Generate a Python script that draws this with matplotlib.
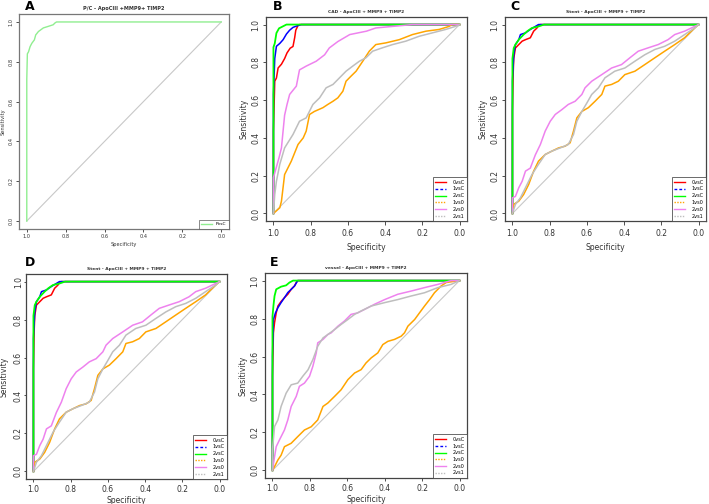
import matplotlib
matplotlib.use("Agg")
import matplotlib.pyplot as plt
from matplotlib.lines import Line2D

W, H = 709, 504

# ---------------- data ----------------
ticks = [1.0, 0.8, 0.6, 0.4, 0.2, 0.0]
tick_labels = ["1.0", "0.8", "0.6", "0.4", "0.2", "0.0"]
series_names = ["0vsC", "1vsC", "2vsC", "1vs0", "2vs0", "2vs1"]
panel_letters = ["A", "B", "C", "D", "E"]
titles = ["P/C - ApoCIII +MMP9+ TIMP2",
          "CAD - ApoCIII + MMP9 + TIMP2",
          "Stent - ApoCIII + MMP9 + TIMP2",
          "Stent - ApoCIII + MMP9 + TIMP2",
          "vessel - ApoCIII + MMP9 + TIMP2"]

# Panel A: PvsC
a_spec = [1.0, 1.0, 0.997, 0.991, 0.983, 0.974, 0.961, 0.954, 0.94, 0.915, 0.889, 0.864, 0.855, 0.847, 0.0]
a_sens = [0.0, 0.71, 0.84, 0.85, 0.876, 0.893, 0.91, 0.935, 0.952, 0.97, 0.978, 0.986, 0.995, 1.0, 1.0]

# Panel B: CAD
b_0vsC_spec = [1, 1, 0.993, 0.984, 0.975, 0.957, 0.94, 0.927, 0.91, 0.895, 0.886, 0.88, 0.868, 0.86, 0]
b_0vsC_sens = [0, 0.436, 0.70, 0.717, 0.77, 0.79, 0.82, 0.85, 0.875, 0.884, 0.93, 0.97, 0.995, 1, 1]
b_1vsC_spec = [1, 1, 0.993, 0.984, 0.966, 0.948, 0.93, 0.913, 0.895, 0.868, 0.85, 0]
b_1vsC_sens = [0, 0.63, 0.82, 0.885, 0.9, 0.92, 0.95, 0.97, 0.985, 0.995, 1, 1]
b_2vsC_spec = [1, 1, 0.993, 0.984, 0.97, 0.93, 0]
b_2vsC_sens = [0, 0.88, 0.9, 0.955, 0.98, 1, 1]
b_1vs0_spec = [1, 0.966, 0.957, 0.94, 0.904, 0.868, 0.84, 0.824, 0.806, 0.78, 0.734, 0.708, 0.68, 0.654,
               0.627, 0.61, 0.583, 0.556, 0.52, 0.485, 0.45, 0.396, 0.324, 0.253, 0.18, 0.11, 0.057, 0.04, 0]
b_1vs0_sens = [0, 0.03, 0.065, 0.206, 0.277, 0.365, 0.4, 0.436, 0.524, 0.54, 0.56, 0.577, 0.594, 0.612,
               0.647, 0.7, 0.727, 0.753, 0.806, 0.859, 0.894, 0.903, 0.92, 0.947, 0.965, 0.974, 0.99, 1.0, 1.0]
b_2vs0_spec = [1, 1, 0.97, 0.957, 0.94, 0.927, 0.913, 0.877, 0.86, 0.824, 0.77, 0.725, 0.7, 0.654, 0.59,
               0.5, 0.45, 0.253, 0]
b_2vs0_sens = [0, 0.19, 0.295, 0.347, 0.52, 0.577, 0.63, 0.674, 0.76, 0.78, 0.806, 0.84, 0.876, 0.91, 0.947,
               0.965, 0.982, 1.0, 1.0]
b_2vs1_spec = [1, 0.993, 0.984, 0.966, 0.94, 0.895, 0.86, 0.824, 0.788, 0.752, 0.717, 0.68, 0.645, 0.61,
               0.574, 0.538, 0.503, 0.467, 0.414, 0.36, 0.289, 0.217, 0.146, 0.075, 0.004, 0]
b_2vs1_sens = [0, 0.1, 0.17, 0.26, 0.347, 0.418, 0.488, 0.506, 0.577, 0.612, 0.665, 0.683, 0.718, 0.753,
               0.78, 0.806, 0.824, 0.859, 0.877, 0.894, 0.912, 0.938, 0.956, 0.974, 0.996, 1.0]

# Panels C and D: Stent (same curves)
c_0vsC_spec = [1, 1, 0.996, 0.993, 0.984, 0.966, 0.948, 0.93, 0.904, 0.886, 0.868, 0.86, 0.85, 0]
c_0vsC_sens = [0, 0.54, 0.744, 0.82, 0.876, 0.894, 0.912, 0.92, 0.93, 0.965, 0.982, 0.996, 1.0, 1.0]
c_1vsC_spec = [1, 1, 0.993, 0.984, 0.966, 0.957, 0.93, 0.904, 0.877, 0.86, 0]
c_1vsC_sens = [0, 0.7, 0.84, 0.894, 0.92, 0.947, 0.956, 0.974, 0.99, 1, 1]
c_2vsC_spec = [1, 1, 0.993, 0.984, 0.966, 0.94, 0.92, 0.895, 0.86, 0.83, 0]
c_2vsC_sens = [0, 0.82, 0.876, 0.894, 0.92, 0.947, 0.965, 0.982, 0.99, 1, 1]
c_1vs0_spec = [1, 0.993, 0.966, 0.94, 0.913, 0.886, 0.86, 0.824, 0.788, 0.752, 0.717, 0.69, 0.672, 0.654,
               0.627, 0.592, 0.556, 0.52, 0.503, 0.467, 0.431, 0.396, 0.342, 0.289, 0.235, 0.182, 0.128,
               0.075, 0.021, 0]
c_1vs0_sens = [0, 0.048, 0.065, 0.1, 0.153, 0.224, 0.277, 0.312, 0.33, 0.347, 0.356, 0.374, 0.436, 0.506,
               0.54, 0.56, 0.594, 0.63, 0.674, 0.683, 0.7, 0.735, 0.753, 0.788, 0.824, 0.859, 0.894,
               0.93, 0.982, 1.0]
c_2vs0_spec = [1, 1, 0.984, 0.966, 0.948, 0.93, 0.904, 0.877, 0.85, 0.824, 0.797, 0.77, 0.734, 0.7, 0.663,
               0.627, 0.61, 0.574, 0.52, 0.467, 0.414, 0.369, 0.324, 0.27, 0.217, 0.164, 0.128, 0.075,
               0.021, 0]
c_2vs0_sens = [0, 0.083, 0.09, 0.136, 0.17, 0.224, 0.24, 0.31, 0.365, 0.436, 0.488, 0.524, 0.55, 0.577,
               0.594, 0.63, 0.665, 0.7, 0.735, 0.77, 0.788, 0.824, 0.859, 0.877, 0.894, 0.92, 0.947,
               0.965, 0.99, 1.0]
c_2vs1_spec = [1, 0.984, 0.957, 0.93, 0.895, 0.86, 0.824, 0.788, 0.743, 0.7, 0.672, 0.654, 0.627, 0.6,
               0.574, 0.538, 0.503, 0.45, 0.396, 0.342, 0.289, 0.235, 0.182, 0.128, 0.075, 0.021, 0]
c_2vs1_sens = [0, 0.048, 0.083, 0.136, 0.206, 0.26, 0.312, 0.33, 0.347, 0.365, 0.418, 0.488, 0.54, 0.585,
               0.63, 0.665, 0.718, 0.753, 0.77, 0.806, 0.84, 0.868, 0.885, 0.912, 0.947, 0.982, 1.0]

# Panel E: vessel
e_0vsC_spec = [1, 1, 0.995, 0.989, 0.98, 0.971, 0.954, 0.936, 0.918, 0.9, 0.882, 0.873, 0.865, 0]
e_0vsC_sens = [0, 0.495, 0.725, 0.778, 0.83, 0.866, 0.89, 0.91, 0.928, 0.954, 0.972, 0.99, 1.0, 1.0]
e_1vsC_spec = [1, 1, 0.995, 0.984, 0.971, 0.954, 0.936, 0.918, 0.9, 0.882, 0.865, 0]
e_1vsC_sens = [0, 0.6, 0.795, 0.83, 0.857, 0.884, 0.91, 0.937, 0.954, 0.972, 1.0, 1.0]
e_2vsC_spec = [1, 1, 0.995, 0.989, 0.98, 0.954, 0.927, 0.909, 0.89, 0]
e_2vsC_sens = [0, 0.81, 0.866, 0.919, 0.954, 0.968, 0.975, 0.99, 1.0, 1.0]
e_1vs0_spec = [1, 0.989, 0.971, 0.954, 0.936, 0.9, 0.865, 0.829, 0.793, 0.758, 0.73, 0.704, 0.668, 0.633,
               0.597, 0.561, 0.526, 0.5, 0.472, 0.437, 0.41, 0.383, 0.348, 0.312, 0.294, 0.276, 0.24,
               0.214, 0.187, 0.16, 0.134, 0.098, 0.071, 0]
e_1vs0_sens = [0, 0.02, 0.055, 0.08, 0.125, 0.143, 0.178, 0.213, 0.23, 0.266, 0.337, 0.355, 0.39, 0.425,
               0.478, 0.513, 0.531, 0.566, 0.593, 0.619, 0.663, 0.68, 0.69, 0.707, 0.725, 0.76, 0.795,
               0.83, 0.866, 0.9, 0.936, 0.972, 0.99, 1.0]
e_2vs0_spec = [1, 0.989, 0.98, 0.963, 0.936, 0.918, 0.9, 0.873, 0.856, 0.829, 0.802, 0.784, 0.766, 0.758,
               0.73, 0.704, 0.686, 0.65, 0.615, 0.58, 0.544, 0.508, 0.455, 0.4, 0.33, 0.258, 0.187, 0.116,
               0.045, 0]
e_2vs0_sens = [0, 0.072, 0.125, 0.16, 0.213, 0.266, 0.337, 0.39, 0.443, 0.46, 0.496, 0.549, 0.619, 0.672,
               0.69, 0.716, 0.725, 0.76, 0.787, 0.822, 0.83, 0.848, 0.875, 0.9, 0.928, 0.945, 0.963, 0.98,
               1.0, 1.0]
e_2vs1_spec = [1, 1, 0.989, 0.971, 0.954, 0.927, 0.9, 0.865, 0.838, 0.81, 0.784, 0.758, 0.73, 0.704, 0.668,
               0.633, 0.597, 0.561, 0.526, 0.472, 0.4, 0.33, 0.258, 0.187, 0.116, 0.045, 0]
e_2vs1_sens = [0, 0.108, 0.231, 0.266, 0.337, 0.407, 0.451, 0.46, 0.496, 0.53, 0.584, 0.654, 0.698, 0.716,
               0.742, 0.769, 0.795, 0.822, 0.84, 0.866, 0.884, 0.9, 0.919, 0.936, 0.963, 0.98, 1.0]

# ---------------- styling ----------------
colors = {"0vsC": "#FF0000", "1vsC": "#0000FF", "2vsC": "#00FF00",
          "1vs0": "#FFA500", "2vs0": "#EE82EE", "2vs1": "#BEBEBE"}
legend_styles = {"0vsC": "-", "1vsC": (0, (2, 1.5)), "2vsC": "-",
                 "1vs0": (0, (1, 1)), "2vs0": "-", "2vs1": (0, (1, 1))}

fig = plt.figure(figsize=(W / 100, H / 100), dpi=100)


def px_axes(left, top, right, bottom):
    return fig.add_axes([left / W, 1 - bottom / H, (right - left) / W, (bottom - top) / H])


def style_axes(ax, fs_tick, fs_lab, fs_title, title, box_col="#444444",
               ylen=2.5, ypad=1.5, ylabpad=2, xlen=3, xpad=3, xlabpad=3):
    ax.set_xlim(1.04, -0.04)
    ax.set_ylim(-0.04, 1.04)
    ax.plot([1, 0], [0, 1], color="#C8C8C8", lw=0.8, zorder=1)
    ax.set_xticks(ticks)
    ax.set_xticklabels(tick_labels)
    ax.set_yticks(ticks)
    ax.set_yticklabels(tick_labels, rotation=90, va="center")
    ax.tick_params(axis="x", direction="out", length=xlen, width=0.6, pad=xpad, labelsize=fs_tick,
                   colors="#333333")
    ax.tick_params(axis="y", direction="out", length=ylen, width=0.6, pad=ypad, labelsize=fs_tick,
                   colors="#333333")
    for s in ax.spines.values():
        s.set_color(box_col)
        s.set_linewidth(0.9)
    ax.set_xlabel("Specificity", fontsize=fs_lab, labelpad=xlabpad, color="#333333")
    ax.set_ylabel("Sensitivity", fontsize=fs_lab, labelpad=ylabpad, color="#333333")
    ax.set_title(title, fontsize=fs_title, fontweight="bold", pad=3, color="#333333")


def multi_panel(ax, data, title, **kw):
    style_axes(ax, 5.5, 5.5, 3.2, title, **kw)
    for name in series_names:
        spec, sens = data[name]
        lw = 1.3 if name == "2vsC" else 1.1
        ax.plot(spec, sens, color=colors[name], lw=lw, zorder=3)
    handles = [Line2D([0], [0], color=colors[n], lw=1.0, linestyle=legend_styles[n]) for n in series_names]
    leg = ax.legend(handles, series_names, loc="lower right", fontsize=3.6, frameon=True,
                    fancybox=False, borderaxespad=0, handlelength=2.2, handletextpad=1.2,
                    labelspacing=0.35, borderpad=0.5)
    leg.get_frame().set_edgecolor("#444444")
    leg.get_frame().set_linewidth(0.7)


# Panel A
axA = px_axes(19, 14, 229, 229)
style_axes(axA, 3.6, 3.6, 3.6, titles[0], box_col="#777777", xlen=2, xpad=1.5, xlabpad=2)
axA.plot(a_spec, a_sens, color="#90EE90", lw=1.0, zorder=3)
legA = axA.legend([Line2D([0], [0], color="#90EE90", lw=1.0)], ["PvsC"], loc="lower right",
                  fontsize=3.2, fancybox=False, borderaxespad=0, handlelength=2.5, borderpad=0.6)
legA.get_frame().set_edgecolor("#555555")
legA.get_frame().set_linewidth(0.6)

b_data = {"0vsC": (b_0vsC_spec, b_0vsC_sens), "1vsC": (b_1vsC_spec, b_1vsC_sens),
          "2vsC": (b_2vsC_spec, b_2vsC_sens), "1vs0": (b_1vs0_spec, b_1vs0_sens),
          "2vs0": (b_2vs0_spec, b_2vs0_sens), "2vs1": (b_2vs1_spec, b_2vs1_sens)}
c_data = {"0vsC": (c_0vsC_spec, c_0vsC_sens), "1vsC": (c_1vsC_spec, c_1vsC_sens),
          "2vsC": (c_2vsC_spec, c_2vsC_sens), "1vs0": (c_1vs0_spec, c_1vs0_sens),
          "2vs0": (c_2vs0_spec, c_2vs0_sens), "2vs1": (c_2vs1_spec, c_2vs1_sens)}
e_data = {"0vsC": (e_0vsC_spec, e_0vsC_sens), "1vsC": (e_1vsC_spec, e_1vsC_sens),
          "2vsC": (e_2vsC_spec, e_2vsC_sens), "1vs0": (e_1vs0_spec, e_1vs0_sens),
          "2vs0": (e_2vs0_spec, e_2vs0_sens), "2vs1": (e_2vs1_spec, e_2vs1_sens)}

axB = px_axes(266, 17, 467, 221)
multi_panel(axB, b_data, titles[1])
axC = px_axes(505, 17, 706, 221)
multi_panel(axC, c_data, titles[2])
axD = px_axes(26, 274, 227, 479)
multi_panel(axD, c_data, titles[3], ylen=1.5, ypad=0.8, ylabpad=4, xlen=2.5, xpad=1.8, xlabpad=1.2)
axE = px_axes(265, 273, 467, 478)
multi_panel(axE, e_data, titles[4], xlen=2.5, xpad=1.8, xlabpad=1.2)

letter_pos = [(25, 7), (273, 7), (510, 7), (25, 262), (270, 262)]
for letter, (x, y) in zip(panel_letters, letter_pos):
    fig.text(x / W, 1 - y / H, letter, fontsize=9, fontweight="bold", ha="left", va="center")

fig.savefig("out.png", dpi=100)
